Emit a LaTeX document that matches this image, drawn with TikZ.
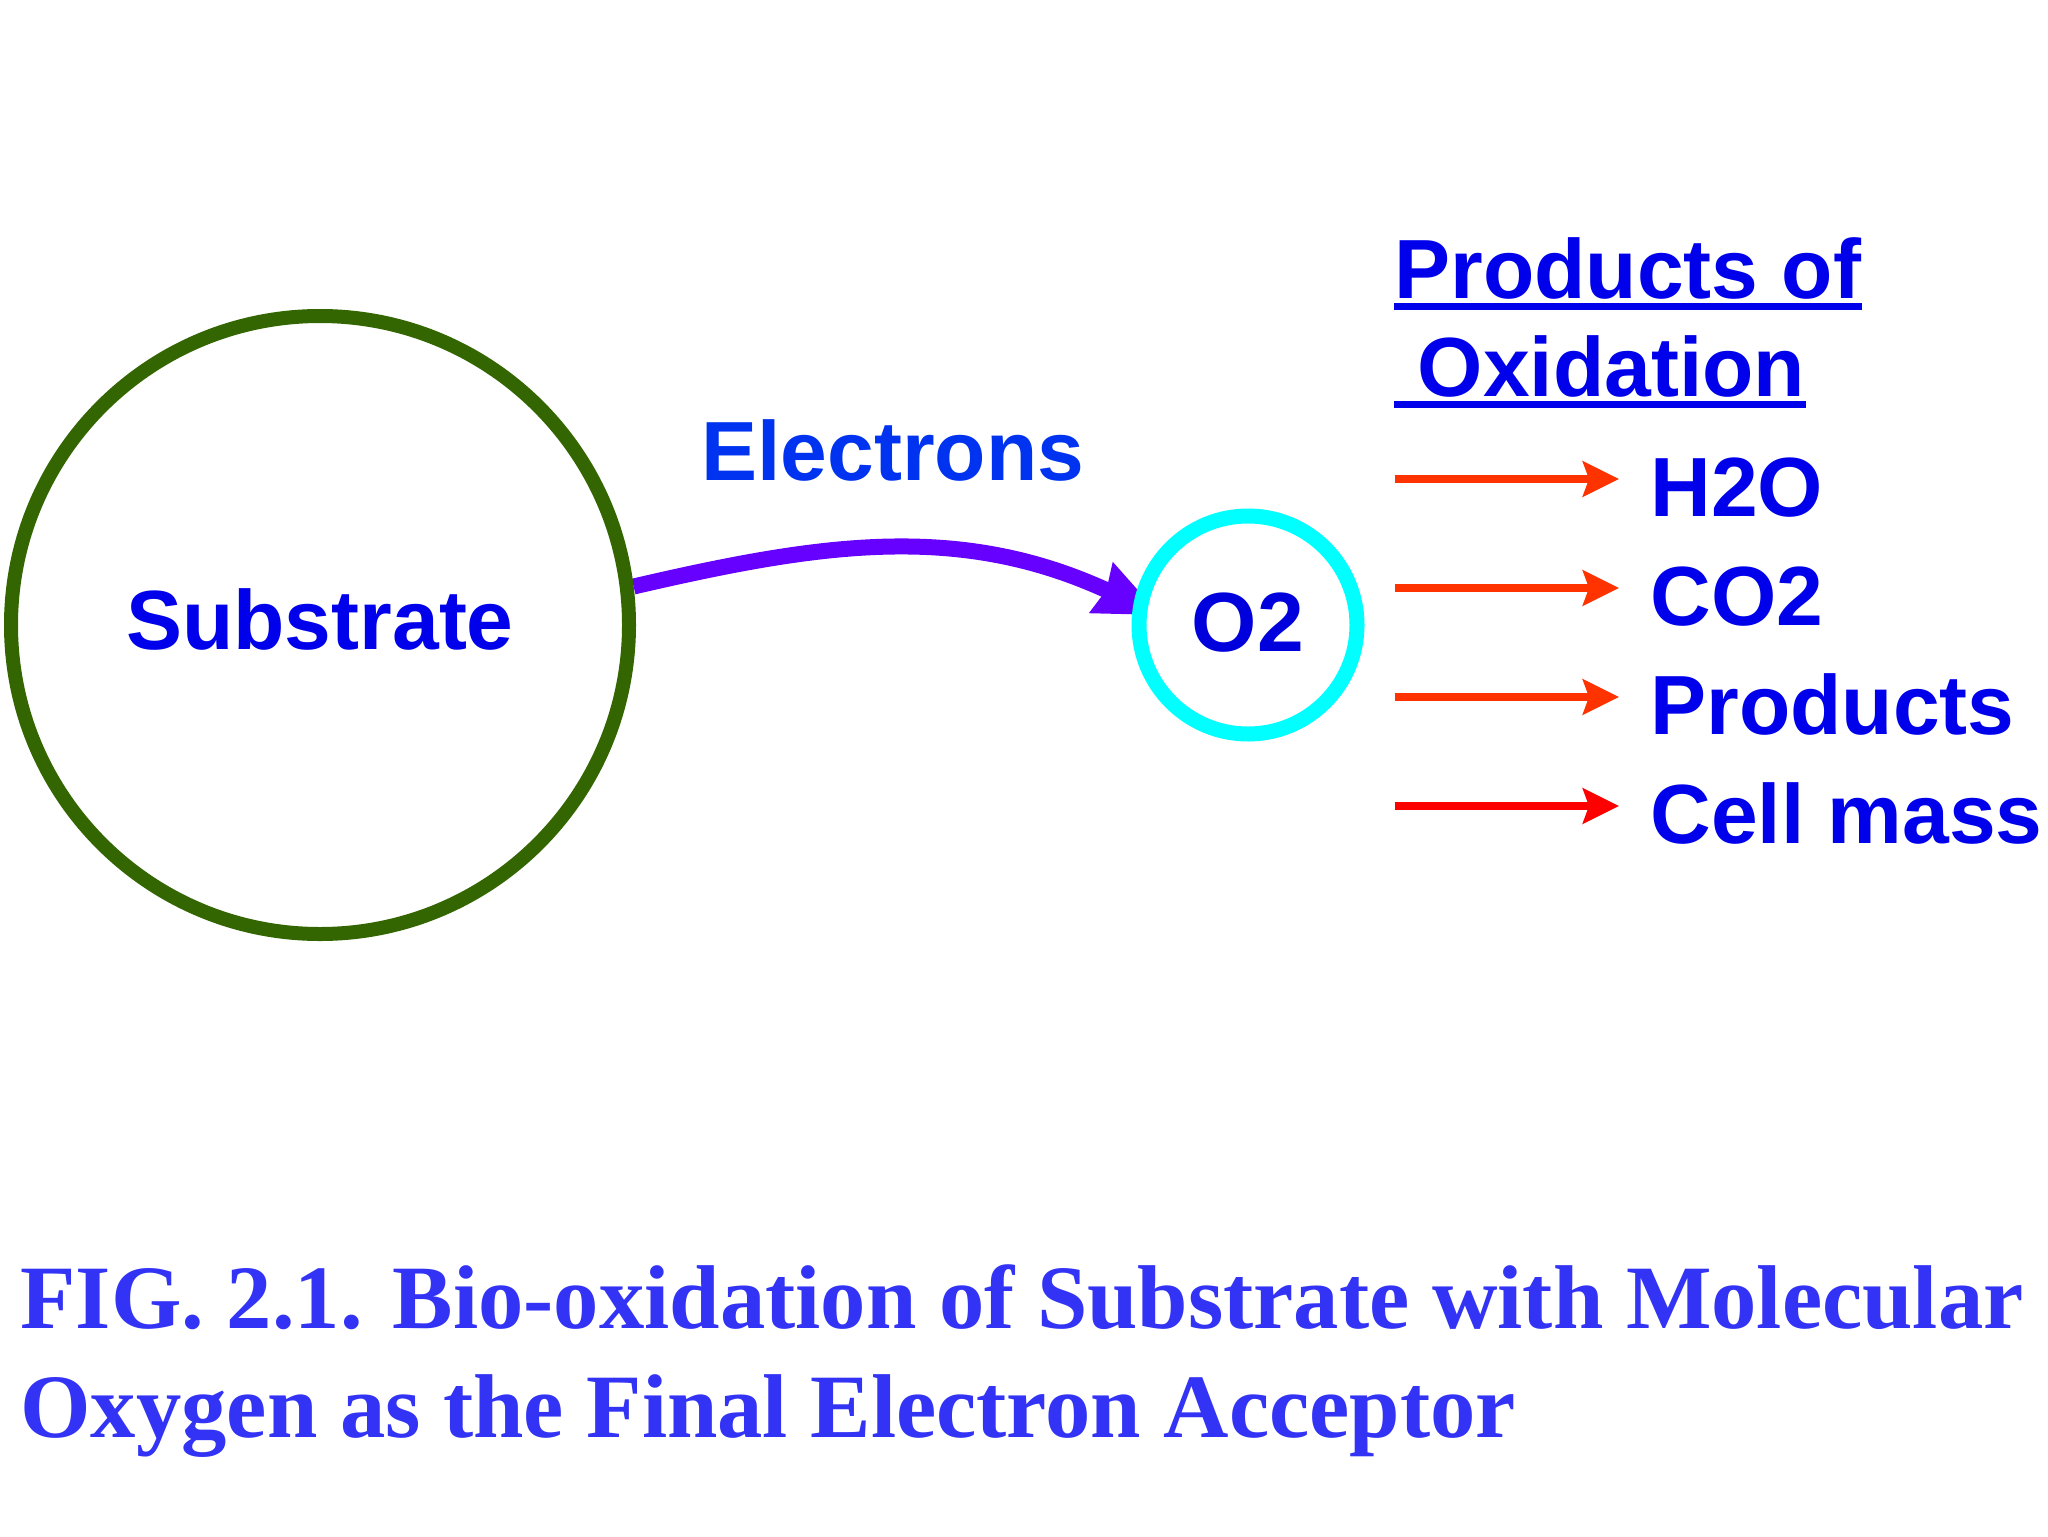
\documentclass[tikz,border=0pt]{standalone}
\usepackage{fontspec}
\setmainfont{Liberation Sans}
\newfontfamily\capfont{Liberation Serif}
\usetikzlibrary{arrows.meta,backgrounds}
\definecolor{subgreen}{RGB}{51,102,0}
\definecolor{ringcyan}{RGB}{0,255,255}
\definecolor{elecpurple}{RGB}{102,0,255}
\definecolor{elecblue}{RGB}{0,51,240}
\definecolor{txtblue}{RGB}{0,0,235}
\definecolor{o2blue}{RGB}{0,0,220}
\definecolor{capblue}{RGB}{51,51,245}
\definecolor{prodorange}{RGB}{255,51,0}
\definecolor{prodred}{RGB}{255,0,0}
\begin{document}
\begin{tikzpicture}[x=0.5pt,y=-0.5pt,
  bigtxt/.style={inner sep=0pt, font=\fontsize{42pt}{48pt}\selectfont\bfseries},
  lbl/.style={bigtxt, anchor=base west},
  captxt/.style={inner sep=0pt, anchor=base west, text=capblue,
    font=\capfont\fontsize{45.3pt}{54.5pt}\selectfont\bfseries},
  prodarrow/.style={line width=4pt, -{Stealth[length=18pt,width=17.5pt,inset=3pt]}}]
\useasboundingbox (0,0) rectangle (2048,1536);

% circles
\node[circle, draw=subgreen, line width=7pt, minimum size=309pt, inner sep=0pt] (sub) at (320,625) {};
\node[circle, draw=ringcyan, fill=white, line width=7.5pt, minimum size=109pt, inner sep=0pt] (o2) at (1248,625) {};

% labels in circles
\node[bigtxt, anchor=base, text=txtblue] (subtxt) at (320,649) {Substrate};
\node[bigtxt, anchor=base, text=o2blue] (o2txt) at (1248,651) {O2};

% electrons arrow
\begin{scope}[on background layer]
\draw[elecpurple, line width=8pt, shorten >=-15pt,
      -{Stealth[length=32pt,width=26pt,inset=2pt]}]
  (sub.7) .. controls (821,543) and (960,522) .. (o2.169);
\end{scope}
\node[lbl, text=elecblue] (electrons) at (701,480) {Electrons};

% products heading
\node[lbl, text=txtblue] (head1) at (1394,298) {Products of};
\node[lbl, text=txtblue] (head2) at (1394,396) {\ Oxidation};
\fill[txtblue] ([yshift=-2.5pt]head1.base west) rectangle ([yshift=-6pt]head1.base east);
\fill[txtblue] ([yshift=-2.5pt]head2.base west) rectangle ([yshift=-6pt]head2.base east);

% product arrows and labels
\coordinate (a1s) at (1394.5,479); \coordinate (a1e) at (1619,479);
\coordinate (a2s) at (1394.5,588); \coordinate (a2e) at (1619,588);
\coordinate (a3s) at (1394.5,697); \coordinate (a3e) at (1619,697);
\coordinate (a4s) at (1394.5,806); \coordinate (a4e) at (1619,806);
\draw[prodarrow, prodorange] (a1s) -- (a1e);
\draw[prodarrow, prodorange] (a2s) -- (a2e);
\draw[prodarrow, prodorange] (a3s) -- (a3e);
\draw[prodarrow, prodred] (a4s) -- (a4e);
\node[lbl, text=txtblue] (h2o) at (1650,516) {H2O};
\node[lbl, text=txtblue] (co2) at (1650,625) {CO2};
\node[lbl, text=txtblue] (prod) at (1650,734) {Products};
\node[lbl, text=txtblue] (cell) at (1650,843) {Cell mass};

% caption
\node[captxt] (cap1) at (20,1328) {FIG. 2.1. Bio-oxidation of Substrate with Molecular};
\node[captxt] (cap2) at (20,1437) {Oxygen as the Final Electron Acceptor};
\end{tikzpicture}
\end{document}
